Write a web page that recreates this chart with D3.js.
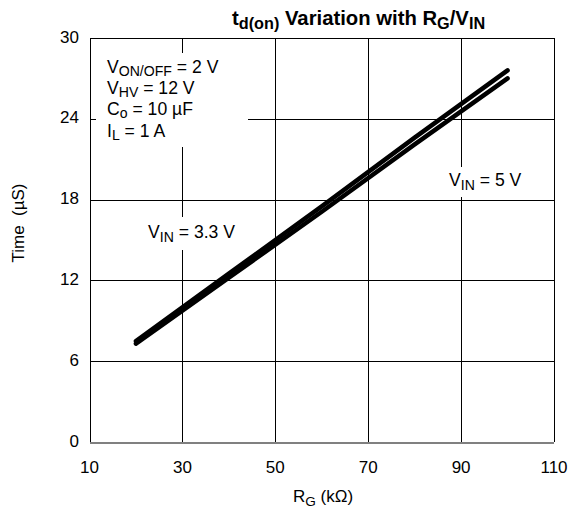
<!DOCTYPE html>
<html><head><meta charset="utf-8">
<script src="https://cdn.jsdelivr.net/npm/d3@7"></script>
<style>body{margin:0;background:#fff}svg{display:block}text{font-family:"Liberation Sans",Arial,sans-serif}</style>
</head><body><svg id="c" width="569" height="510"></svg>
<script>
const rg = [20, 40, 60, 80, 100];
const vin33 = [7.3, 12.2, 17.1, 22.1, 27.0];
const vin5 = [7.5, 12.5, 17.5, 22.6, 27.6];
const xTicks = [10, 30, 50, 70, 90, 110];
const yTicks = [0, 6, 12, 18, 24, 30];

const svg = d3.select("#c");
const x = d3.scaleLinear().domain([10, 110]).range([89.5, 554]);
const y = d3.scaleLinear().domain([0, 30]).range([442, 38]);
const FS = 17;
const AFS = 17.6;

// grid
const g = svg.append("g").attr("shape-rendering", "crispEdges");
g.selectAll(".vx").data(xTicks).join("line")
  .attr("x1", d => Math.round(x(d)) + 0.5).attr("x2", d => Math.round(x(d)) + 0.5)
  .attr("y1", y(0)).attr("y2", y(30)).attr("stroke", "#000").attr("stroke-width", 1);
g.selectAll(".hy").data(yTicks).join("line")
  .attr("y1", d => Math.round(y(d)) + 0.5).attr("y2", d => Math.round(y(d)) + 0.5)
  .attr("x1", x(10)).attr("x2", x(110)).attr("stroke", "#000").attr("stroke-width", 1);
g.append("line").attr("x1", x(10)).attr("x2", x(110)).attr("y1", y(0) + 0.5).attr("y2", y(0) + 0.5)
  .attr("stroke", "#808080").attr("stroke-width", 2);

// label white boxes
svg.append("rect").attr("x", 96).attr("y", 53).attr("width", 152).attr("height", 94).attr("fill", "#fff");
svg.append("rect").attr("x", 142).attr("y", 217).attr("width", 102).attr("height", 33).attr("fill", "#fff");
svg.append("rect").attr("x", 444).attr("y", 167).attr("width", 86).attr("height", 30).attr("fill", "#fff");

// lines
const line = d3.line().x((d, i) => x(rg[i])).y(d => y(d));
[vin33, vin5].forEach(s => {
  svg.append("path").datum(s).attr("d", line).attr("fill", "none")
    .attr("stroke", "#000").attr("stroke-width", 4.5).attr("stroke-linecap", "round");
});

// tick labels
svg.selectAll(".xt").data(xTicks).join("text")
  .attr("x", d => x(d)).attr("y", 473).attr("text-anchor", "middle")
  .attr("font-size", FS).text(d => d);
svg.selectAll(".yt").data(yTicks).join("text")
  .attr("x", 79).attr("y", d => y(d) + 4.5).attr("text-anchor", "end")
  .attr("font-size", FS).text(d => d);

function sub(t, parts, fs, dy) {
  dy = dy || 4;
  parts.forEach(p => {
    const ts = t.append("tspan").text(p[0]);
    if (p[1] === "sub") ts.attr("font-size", fs * 0.8).attr("dy", dy);
    else if (p[1] === "up") ts.attr("dy", -dy);
  });
}

// title
const tt = svg.append("text").attr("x", 232).attr("y", 25).attr("font-size", 20.3).attr("font-weight", "bold");
sub(tt, [["t"], ["d(on)", "sub"], [" Variation with R", "up"], ["G", "sub"], ["/V", "up"], ["IN", "sub"]], 20.3);

// x label
const xl = svg.append("text").attr("x", 323).attr("y", 502).attr("text-anchor", "middle").attr("font-size", FS);
sub(xl, [["R"], ["G", "sub"], [" (kΩ)", "up"]], FS);

// y label
svg.append("text").attr("transform", "translate(24,223) rotate(-90)").attr("text-anchor", "middle")
  .attr("font-size", FS).attr("xml:space", "preserve").text("Time  (µS)");

// annotations
const ann = [
  [[["V"], ["ON/OFF", "sub"], [" = 2 V", "up"]], 73],
  [[["V"], ["HV", "sub"], [" = 12 V", "up"]], 94],
  [[["C"], ["o", "sub"], [" = 10 µF", "up"]], 115],
  [[["I"], ["L", "sub"], [" = 1 A", "up"]], 137]
];
ann.forEach(a => {
  const t = svg.append("text").attr("x", 107).attr("y", a[1]).attr("font-size", AFS);
  sub(t, a[0], AFS, 3);
});
const l33 = svg.append("text").attr("x", 148).attr("y", 238).attr("font-size", AFS);
sub(l33, [["V"], ["IN", "sub"], [" = 3.3 V", "up"]], AFS);
const l5 = svg.append("text").attr("x", 449).attr("y", 186).attr("font-size", AFS);
sub(l5, [["V"], ["IN", "sub"], [" = 5 V", "up"]], AFS);
</script></body></html>
